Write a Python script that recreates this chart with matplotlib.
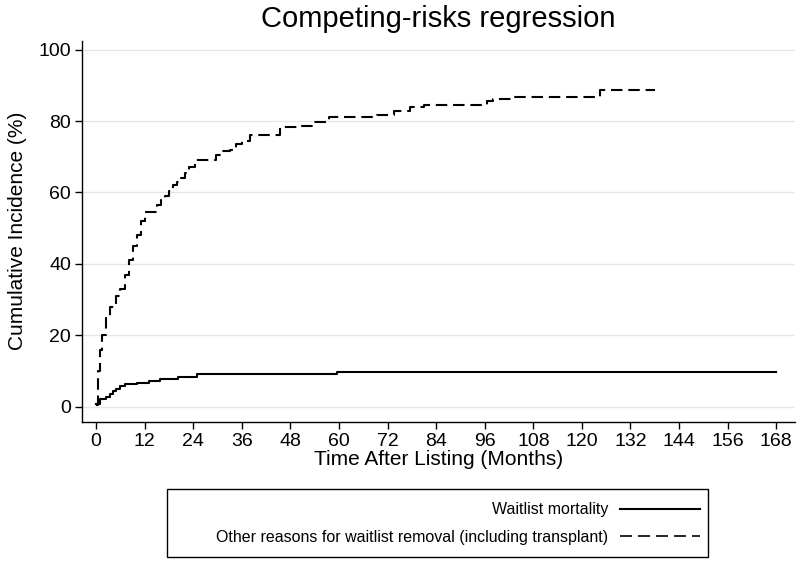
import matplotlib
matplotlib.use("Agg")
import matplotlib.pyplot as plt
from matplotlib.lines import Line2D
from matplotlib.patches import Rectangle

plt.rcParams.update({"font.family": ["Liberation Sans", "DejaVu Sans"]})

# cumulative incidence (%) step curves, value holds from t until next t
mort_t = [0, 1, 2.5, 3.5, 4.2, 5, 6, 7, 10, 13, 15.8, 20.2, 24.8, 59.5, 168]
mort_y = [0.9, 2.3, 2.8, 3.6, 4.3, 5.0, 5.7, 6.3, 6.7, 7.3, 7.7, 8.4, 9.1, 9.8, 9.8]

other_t = [0, 0.5, 1, 1.5, 2.5, 3.5, 5, 6, 7, 8, 9, 10, 11, 12, 14, 15, 16, 17, 18,
           19, 20, 21, 22, 23, 24.5, 29.5, 31, 33, 34.5, 36, 38, 43.5, 45.5, 50.5,
           53.5, 57.5, 67, 69.5, 73.5, 77.5, 81, 84, 96.5, 98, 103, 104.5, 124.5, 138]
other_y = [0.5, 10, 16, 20, 25, 28, 31, 33, 37, 41, 45, 48, 52, 54.5, 54.5, 56.5, 58,
           59, 60.5, 62, 63, 64, 65.5, 67, 69, 70.5, 71.5, 72, 73.5, 74.5, 76.2, 76.2,
           78.3, 78.7, 79.6, 81.1, 81.1, 81.8, 82.9, 83.8, 84.5, 84.5, 85.7, 86.2, 86.8,
           86.8, 88.8, 88.8]

labels = ["Waitlist mortality",
          "Other reasons for waitlist removal (including transplant)"]
xticks = list(range(0, 169, 12))
yticks = [0, 20, 40, 60, 80, 100]

fig = plt.figure(figsize=(8, 5.64), dpi=100)
ax = fig.add_axes([0.1025, 0.252, 0.8915, 0.676])

ax.step(mort_t, mort_y, where="post", color="black", lw=1.5)
ax.step(other_t, other_y, where="post", color="black", lw=1.5, dashes=(5.5, 2.8))

ax.set_xlim(-3.5, 172.7)
ax.set_ylim(-4.2, 102.5)
ax.set_xticks(xticks)
ax.set_yticks(yticks)
ax.tick_params(labelsize=14, length=5, width=1, direction="out", colors="black", pad=3)
ax.grid(True, axis="y", color="#e6e6e6", lw=1)
ax.set_axisbelow(True)
for s in ["top", "right"]:
    ax.spines[s].set_visible(False)
for s in ["left", "bottom"]:
    ax.spines[s].set_linewidth(1)

ax.set_xlabel("Time After Listing (Months)", fontsize=15, labelpad=0)
ax.set_ylabel("Cumulative Incidence (%)", fontsize=15, labelpad=8)
ax.set_title("Competing-risks regression", fontsize=21, pad=9.5)

# legend: Stata style, text right-aligned before the key
handles = [Line2D([], [], color="black", lw=1.5),
           Line2D([], [], color="black", lw=1.2, dashes=(7.2, 3.6))]
fig.patches.append(Rectangle((0.209, 0.0124), 0.676, 0.1205, transform=fig.transFigure,
                             fill=False, edgecolor="black", lw=1))
fig.legend(handles, labels, loc="center right", bbox_to_anchor=(0.875, 0.0718),
           frameon=False, markerfirst=False, fontsize=11.5, handlelength=5.0,
           handletextpad=0.75, labelspacing=0.8, borderaxespad=0, borderpad=0)

fig.savefig("out.png", dpi=100)
